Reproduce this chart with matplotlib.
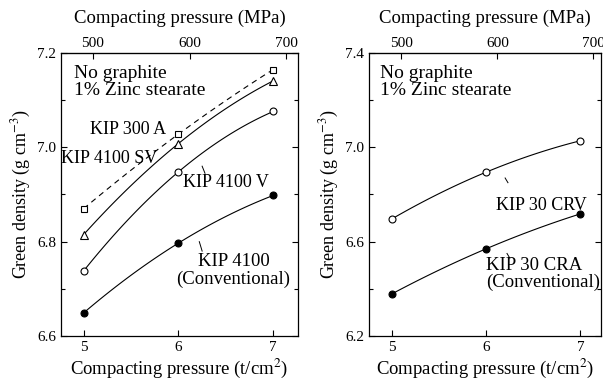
import numpy as np
import matplotlib
matplotlib.use("Agg")
import matplotlib.pyplot as plt
from matplotlib.ticker import FormatStrFormatter

plt.rcParams['font.family'] = ['Liberation Serif', 'DejaVu Serif']
plt.rcParams['mathtext.fontset'] = 'stix'

pressure = [5, 6, 7]
mpa_ticks = [500, 600, 700]
TCM2_TO_MPA = 98.0665

# left panel
kip300a = [6.87, 7.028, 7.165]
kip4100sv = [6.815, 7.008, 7.141]
kip4100v = [6.738, 6.948, 7.076]
kip4100 = [6.649, 6.797, 6.898]

# right panel
kip30crv = [6.697, 6.895, 7.028]
kip30cra = [6.379, 6.570, 6.718]

left_yticks = [6.6, 6.8, 7.0, 7.2]
left_yminor = [6.7, 6.9, 7.1]
right_yticks = [6.2, 6.6, 7.0, 7.4]
right_yminor = [6.4, 6.8, 7.2]

fig = plt.figure(figsize=(6.03, 3.84), dpi=100)
axL = fig.add_axes([0.101, 0.125, 0.393, 0.737])
axR = fig.add_axes([0.612, 0.125, 0.385, 0.737])

def smooth(ax, y, **kw):
    c = np.polyfit(pressure, y, 2)
    xs = np.linspace(pressure[0], pressure[-1], 60)
    ax.plot(xs, np.polyval(c, xs), color='black', lw=0.8, **kw)

def markers(ax, y, marker, filled):
    ax.plot(pressure, y, ls='none', marker=marker, ms=5 if marker != '^' else 5.5,
            mfc='black' if filled else 'white', mec='black', mew=0.8, zorder=3)

def style(ax, ylim, major, minor, xlim):
    ax.set_xlim(*xlim)
    ax.set_ylim(*ylim)
    ax.set_xticks(pressure)
    ax.set_yticks(major)
    ax.set_yticks(minor, minor=True)
    ax.tick_params(direction='in', which='both', right=True, labelsize=11, length=4, width=0.8)
    ax.tick_params(which='minor', length=3)
    ax.yaxis.set_major_formatter(FormatStrFormatter('%.1f'))
    for s in ax.spines.values():
        s.set_linewidth(0.9)
    ax.set_xlabel('Compacting pressure (t/cm$^2$)', fontsize=13.5, labelpad=2)
    ax.set_ylabel('Green density (g cm$^{-3}$)', fontsize=13, labelpad=3)
    sec = ax.secondary_xaxis('top', functions=(lambda x: x * TCM2_TO_MPA, lambda m: m / TCM2_TO_MPA))
    sec.set_xticks(mpa_ticks)
    sec.tick_params(direction='in', labelsize=11, length=4, width=0.8, pad=2)
    sec.set_xlabel('Compacting pressure (MPa)', fontsize=13.5, labelpad=10)

# Left
smooth(axL, kip300a, ls=(0, (5, 4)))
smooth(axL, kip4100sv)
smooth(axL, kip4100v)
smooth(axL, kip4100)
markers(axL, kip300a, 's', False)
markers(axL, kip4100sv, '^', False)
markers(axL, kip4100v, 'o', False)
markers(axL, kip4100, 'o', True)
style(axL, (6.6, 7.2), left_yticks, left_yminor, (4.76, 7.26))

axL.text(4.9, 7.175, 'No graphite\n1% Zinc stearate', fontsize=14, va='top', ha='left', linespacing=1.0)
axL.text(5.07, 7.038, 'KIP 300 A', fontsize=13, va='center', ha='left')
axL.text(4.76, 6.977, 'KIP 4100 SV', fontsize=13, va='center', ha='left')
axL.text(6.05, 6.925, 'KIP 4100 V', fontsize=13, va='center', ha='left')
axL.text(6.58, 6.775, 'KIP 4100\n(Conventional)', fontsize=13.5, va='top', ha='center', linespacing=1.0)
axL.plot([6.25, 6.28], [6.96, 6.945], color='black', lw=0.7)
axL.plot([6.22, 6.25], [6.80, 6.78], color='black', lw=0.7)

# Right
smooth(axR, kip30crv)
smooth(axR, kip30cra)
markers(axR, kip30crv, 'o', False)
markers(axR, kip30cra, 'o', True)
style(axR, (6.2, 7.4), right_yticks, right_yminor, (4.755, 7.22))

axR.text(4.87, 7.35, 'No graphite\n1% Zinc stearate', fontsize=14, va='top', ha='left', linespacing=1.0)
axR.text(6.1, 6.755, 'KIP 30 CRV', fontsize=13, va='center', ha='left')
axR.text(6.0, 6.535, 'KIP 30 CRA\n(Conventional)', fontsize=13.5, va='top', ha='left', linespacing=1.0)
axR.plot([6.2, 6.23], [6.87, 6.85], color='black', lw=0.7)
axR.plot([6.22, 6.25], [6.55, 6.53], color='black', lw=0.7)

fig.savefig('out.png', dpi=100)
